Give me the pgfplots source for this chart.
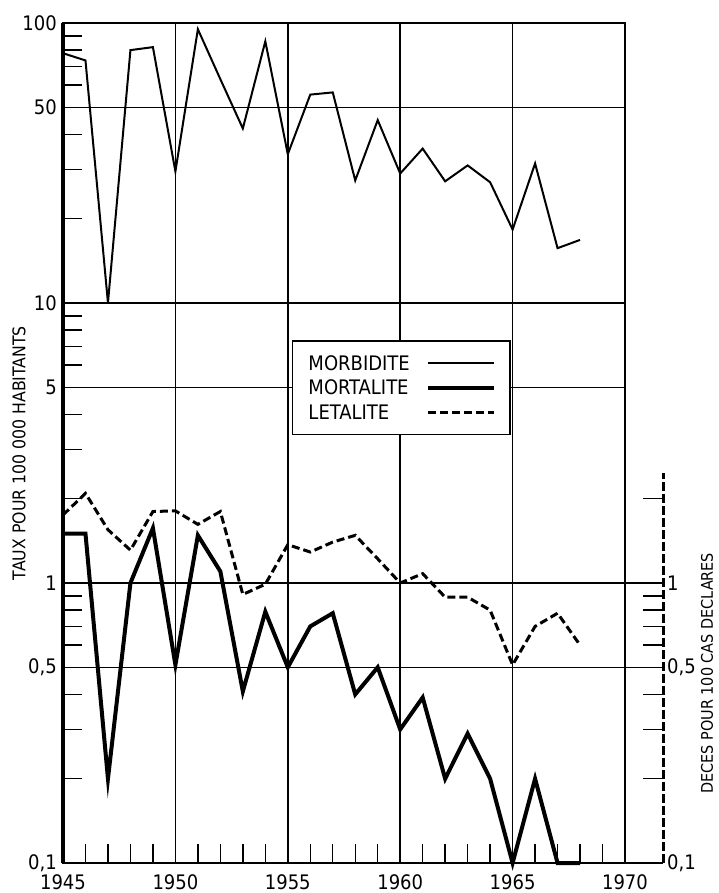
\documentclass[border=0pt]{standalone}
\usepackage{pgfplots}
\pgfplotsset{compat=1.18}
\usepackage{fontspec}
\setmainfont{DejaVu Sans Condensed}
\pgfplotstableread{
year morb mort leta
1945 78   1.50 1.75
1946 73.5 1.50 2.09
1947 10   0.20 1.55
1948 80   1.00 1.31
1949 82   1.57 1.80
1950 29.5 0.51 1.81
1951 95   1.48 1.62
1952 63   1.10 1.80
1953 42   0.41 0.91
1954 86   0.79 0.99
1955 34   0.50 1.37
1956 55.5 0.70 1.29
1957 56.5 0.78 1.40
1958 27.4 0.40 1.48
1959 45   0.50 1.22
1960 29   0.30 1.00
1961 35.6 0.39 1.08
1962 27.2 0.20 0.89
1963 31   0.29 0.89
1964 27   0.20 0.80
1965 18.3 0.10 0.51
1966 31.5 0.20 0.70
1967 15.7 0.10 0.78
1968 16.8 0.10 0.60
}\datatable
\begin{document}
\begin{tikzpicture}
\begin{axis}[
  name=ax,
  scale only axis, width=562pt, height=840pt,
  ymode=log, xmin=1945, xmax=1970, ymin=0.1, ymax=100,
  clip=false,
  xtick={1945,1950,1955,1960,1965,1970},
  xticklabels={1945,1950,1955,1960,1965,1970},
  minor xtick={1946,1947,...,1969},
  ytick={0.1,0.5,1,5,10,50,100},
  yticklabels={{0,1},{0,5},1,5,10,50,100},
  minor ytick={0.2,0.3,0.4,0.6,0.7,0.8,0.9,2,3,4,6,7,8,9,20,30,40,60,70,80,90},
  xtick pos=bottom, ytick pos=left,
  tick align=inside,
  major tick length=0pt, minor tick length=19pt,
  grid=major,
  major grid style={black, line width=1.5pt},
  tick style={black, line width=1.4pt},
  axis line style={black, line width=1.5pt},
  tick label style={font=\fontsize{20}{24}\selectfont, inner sep=0pt},
  xticklabel style={yshift=-11pt},
  yticklabel style={xshift=-6pt},
  /pgf/number format/assume math mode=true,
  ylabel={TAUX POUR 100 000 HABITANTS},
  ylabel style={at={(axis description cs:-0.0783,0.488)}, anchor=center, font=\fontsize{17.5}{20}\selectfont},
  legend plot pos=right,
  legend cell align=left,
  legend image code/.code={\draw[#1] (0pt,0pt) -- (66pt,0pt);},
  legend style={at={(axis description cs:0.407,0.6226)}, anchor=north west,
    draw=black, line width=1.5pt, fill=white,
    font=\fontsize{20}{24}\selectfont,
    inner xsep=14pt, inner ysep=13pt,
    row sep=6pt, column sep=14pt,
    nodes={inner sep=2pt, text height=14.6pt, text depth=0pt}},
]
\addplot[black, line width=2pt, line join=miter] table[x=year, y=morb] {\datatable};
\addlegendentry{MORBIDITE}
\addplot[black, line width=4pt, line join=miter] table[x=year, y=mort] {\datatable};
\addlegendentry{MORTALITE}
\addplot[black, line width=3pt, dash pattern=on 8pt off 4pt] table[x=year, y=leta] {\datatable};
\addlegendentry{LETALITE}
\draw[black, line width=4pt] (axis cs:1945,0.1) -- (axis cs:1945,100);
\end{axis}
\begin{axis}[
  scale only axis, width=600pt, height=389.97pt,
  ymode=log, ymin=0.1, ymax=2.47, xmin=0, xmax=1,
  axis x line=none, axis y line*=right,
  y axis line style={black, line width=3pt, dash pattern=on 9pt off 3pt},
  ytick={0.1,0.5,1}, yticklabels={{0,1},{0,5},1},
  minor ytick={0.2,0.3,0.4,0.6,0.7,0.8,0.9,2},
  tick align=inside,
  major tick length=38pt, minor tick length=20pt,
  tick style={black, line width=1.4pt},
  yticklabel style={font=\fontsize{20}{24}\selectfont, anchor=west, inner sep=0pt, xshift=4pt},
  /pgf/number format/assume math mode=true,
  ylabel={DECES POUR 100 CAS DECLARES},
  ylabel style={at={(axis description cs:1.0733,0.487)}, anchor=center, font=\fontsize{16}{19}\selectfont},
]
\addplot[draw=none] coordinates {(0,1)};
\end{axis}
\path (ax.south west) ++(-63pt,-30pt) rectangle ++(718pt,893pt);
\end{tikzpicture}
\end{document}
